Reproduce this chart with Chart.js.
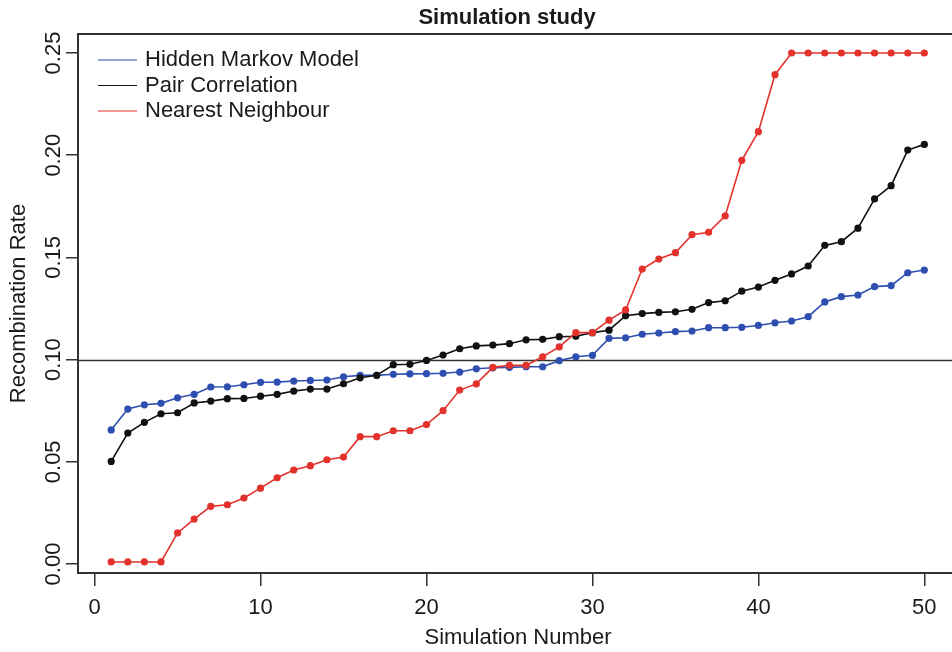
<!DOCTYPE html>
<html>
<head>
<meta charset="utf-8">
<script src="https://cdn.jsdelivr.net/npm/chart.js@4/dist/chart.umd.min.js"></script>
<style>
  html, body { margin: 0; padding: 0; background: #fff; }
  #wrap { width: 952px; height: 652px; }
</style>
</head>
<body>
<div id="wrap"><canvas id="c" width="952" height="652"></canvas></div>
<script>
const simulationNumbers = [1,2,3,4,5,6,7,8,9,10,11,12,13,14,15,16,17,18,19,20,21,22,23,24,25,26,27,28,29,30,31,32,33,34,35,36,37,38,39,40,41,42,43,44,45,46,47,48,49,50];

const hiddenMarkovModel = [0.0656,0.0758,0.0779,0.0786,0.0813,0.0830,0.0866,0.0867,0.0877,0.0889,
  0.0890,0.0895,0.0898,0.0900,0.0916,0.0923,0.0923,0.0928,0.0930,0.0931,
  0.0933,0.0939,0.0955,0.0960,0.0962,0.0965,0.0965,0.0995,0.1014,0.1021,
  0.1104,0.1107,0.1124,0.1130,0.1137,0.1140,0.1156,0.1156,0.1158,0.1167,
  0.1180,0.1189,0.1210,0.1282,0.1308,0.1316,0.1357,0.1362,0.1425,0.1438];

const pairCorrelation = [0.0502,0.0641,0.0693,0.0735,0.0740,0.0788,0.0797,0.0809,0.0810,0.0821,
  0.0830,0.0846,0.0856,0.0856,0.0882,0.0911,0.0923,0.0975,0.0977,0.0996,
  0.1022,0.1053,0.1067,0.1071,0.1078,0.1097,0.1099,0.1112,0.1114,0.1132,
  0.1144,0.1215,0.1225,0.1231,0.1234,0.1246,0.1279,0.1288,0.1335,0.1355,
  0.1388,0.1419,0.1458,0.1559,0.1577,0.1643,0.1786,0.1851,0.2025,0.2053];

const nearestNeighbour = [0.0010,0.0010,0.0010,0.0010,0.0152,0.0220,0.0282,0.0290,0.0323,0.0371,
  0.0422,0.0460,0.0481,0.0510,0.0523,0.0623,0.0623,0.0652,0.0652,0.0682,
  0.0750,0.0851,0.0881,0.0962,0.0972,0.0972,0.1014,0.1062,0.1132,0.1132,
  0.1193,0.1243,0.1443,0.1492,0.1523,0.1611,0.1623,0.1703,0.1975,0.2115,
  0.2394,0.2500,0.2500,0.2500,0.2500,0.2500,0.2500,0.2500,0.2500,0.2500];

const xTickLabels = ['0','10','20','30','40','50'];
const yTickLabels = ['0.00','0.05','0.10','0.15','0.20','0.25'];
const seriesNames = ['Hidden Markov Model','Pair Correlation','Nearest Neighbour'];
const referenceLevel = 0.1;

const FONT = '"Liberation Sans", Arial, Helvetica, sans-serif';
const TXT = '#1a1a1a';
const COLORS = ['#2f4fb0', '#111111', '#e2322b'];

function pts(vals) { return simulationNumbers.map((n, i) => ({ x: n, y: vals[i] })); }

function ds(label, vals, color, order) {
  return {
    label, data: pts(vals), borderColor: color, backgroundColor: color,
    borderWidth: 1.6, pointRadius: 3.6, pointHoverRadius: 3.6,
    pointBorderWidth: 0, tension: 0, order
  };
}

const rPlot = {
  id: 'rPlot',
  beforeDatasetsDraw(chart) {
    const { ctx, chartArea: a, scales: { y } } = chart;
    const py = Math.round(y.getPixelForValue(referenceLevel)) + 0.5;
    ctx.save();
    ctx.strokeStyle = '#333';
    ctx.lineWidth = 1.5;
    ctx.beginPath(); ctx.moveTo(a.left, py); ctx.lineTo(a.right + 10, py); ctx.stroke();
    ctx.restore();
  },
  afterDraw(chart) {
    const { ctx, chartArea: a, scales: { x, y } } = chart;
    ctx.save();
    // box (right side falls outside the picture, as in the reference)
    ctx.strokeStyle = '#333';
    ctx.lineWidth = 2;
    ctx.strokeRect(a.left, a.top, 960 - a.left, a.bottom - a.top);
    ctx.fillStyle = TXT;
    // title
    ctx.font = 'bold 22px ' + FONT;
    ctx.textAlign = 'center'; ctx.textBaseline = 'alphabetic';
    ctx.fillText('Simulation study', 507, 24);
    // x tick labels
    ctx.font = '22px ' + FONT;
    xTickLabels.forEach(t => {
      ctx.fillText(t, x.getPixelForValue(Number(t)), 614);
    });
    // x title
    ctx.fillText('Simulation Number', 518, 644);
    // y tick labels (rotated)
    yTickLabels.forEach(t => {
      ctx.save();
      ctx.translate(60, y.getPixelForValue(Number(t)));
      ctx.rotate(-Math.PI / 2);
      ctx.textAlign = 'center';
      ctx.fillText(t, 0, 0);
      ctx.restore();
    });
    // y title
    ctx.save();
    ctx.translate(25, (a.top + a.bottom) / 2);
    ctx.rotate(-Math.PI / 2);
    ctx.textAlign = 'center';
    ctx.fillText('Recombination Rate', 0, 0);
    ctx.restore();
    // legend
    ctx.textAlign = 'left';
    chart.data.datasets.forEach((d, i) => {
      const base = 66 + i * 25.5;
      ctx.strokeStyle = d.borderColor;
      ctx.lineWidth = 1.2;
      ctx.beginPath(); ctx.moveTo(98, base - 6); ctx.lineTo(137, base - 6); ctx.stroke();
      ctx.fillStyle = TXT;
      ctx.fillText(d.label, 145, base);
    });
    ctx.restore();
  }
};

new Chart(document.getElementById('c'), {
  type: 'line',
  data: {
    datasets: [
      ds(seriesNames[0], hiddenMarkovModel, COLORS[0], 3),
      ds(seriesNames[1], pairCorrelation, COLORS[1], 2),
      ds(seriesNames[2], nearestNeighbour, COLORS[2], 1)
    ]
  },
  options: {
    responsive: false,
    animation: false,
    devicePixelRatio: 1,
    layout: { padding: { top: 34, right: 0, left: 0, bottom: 0 } },
    plugins: { legend: { display: false }, tooltip: { enabled: false }, title: { display: false } },
    scales: {
      x: {
        type: 'linear', min: -1.0, max: 51.45,
        afterFit(s) { s.height = 79; },
        border: { display: false },
        grid: { drawOnChartArea: false, drawTicks: true, tickLength: 13, color: '#333', lineWidth: 1.5 },
        ticks: { display: false, stepSize: 10, includeBounds: false }
      },
      y: {
        type: 'linear', min: -0.0044, max: 0.2593,
        afterFit(s) { s.width = 78; },
        border: { display: false },
        grid: { drawOnChartArea: false, drawTicks: true, tickLength: 12, color: '#333', lineWidth: 1.5 },
        ticks: { display: false, stepSize: 0.05, includeBounds: false }
      }
    }
  },
  plugins: [rPlot]
});
</script>
</body>
</html>
